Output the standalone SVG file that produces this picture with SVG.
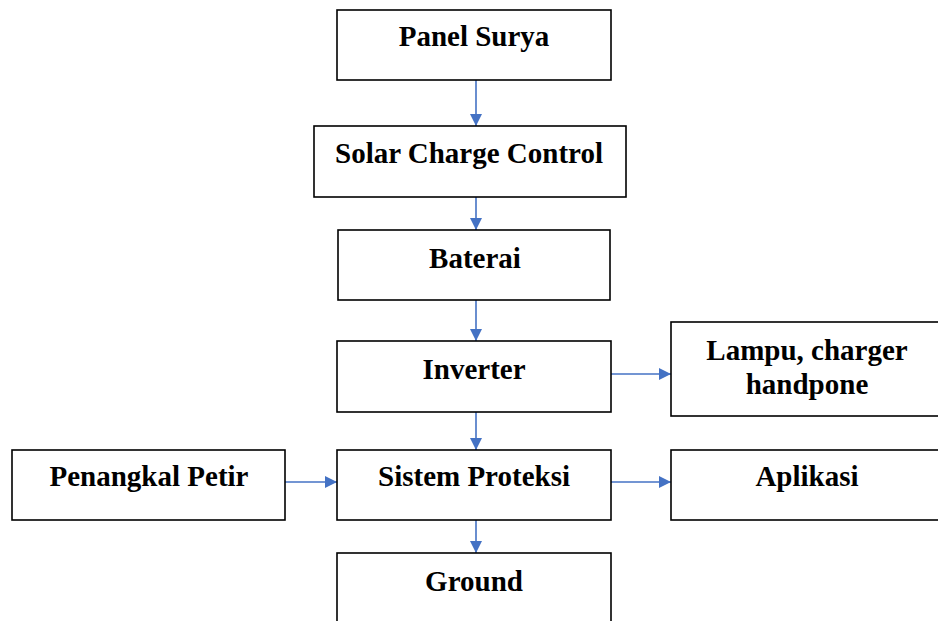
<svg xmlns="http://www.w3.org/2000/svg" width="938" height="621" viewBox="0 0 938 621">
<style>
.box{fill:#fff;stroke:#000;stroke-width:1.6}
.lbl{font-family:"Liberation Serif","Times New Roman",serif;font-weight:bold;font-size:29px;fill:#000;text-anchor:middle}
.con{stroke:#4472C4;stroke-width:1.6;fill:none}
</style>
<defs>
<marker id="ah" viewBox="0 0 12 12" refX="12" refY="6" markerWidth="12" markerHeight="12" markerUnits="userSpaceOnUse" orient="auto">
<path d="M0,0 L12,6 L0,12 Z" fill="#4472C4"/>
</marker>
</defs>
<rect width="938" height="621" fill="#fff"/>
<g id="connectors">
<line class="con" x1="476" y1="80" x2="476" y2="126" marker-end="url(#ah)"/>
<line class="con" x1="476" y1="197" x2="476" y2="230" marker-end="url(#ah)"/>
<line class="con" x1="476" y1="300" x2="476" y2="341" marker-end="url(#ah)"/>
<line class="con" x1="476" y1="412" x2="476" y2="450" marker-end="url(#ah)"/>
<line class="con" x1="476" y1="520" x2="476" y2="553" marker-end="url(#ah)"/>
<line class="con" x1="611" y1="374" x2="671" y2="374" marker-end="url(#ah)"/>
<line class="con" x1="285" y1="482" x2="337" y2="482" marker-end="url(#ah)"/>
<line class="con" x1="611" y1="482" x2="671" y2="482" marker-end="url(#ah)"/>
</g>
<g id="panel-surya">
<rect class="box" x="337" y="10" width="274" height="70"/>
<text class="lbl" x="474" y="46">Panel Surya</text>
</g>
<g id="solar-charge-control">
<rect class="box" x="314" y="126" width="312" height="71"/>
<text class="lbl" x="469" y="163">Solar Charge Control</text>
</g>
<g id="baterai">
<rect class="box" x="338" y="230" width="272" height="70"/>
<text class="lbl" x="475" y="268">Baterai</text>
</g>
<g id="inverter">
<rect class="box" x="337" y="341" width="274" height="71"/>
<text class="lbl" x="474" y="379">Inverter</text>
</g>
<g id="lampu">
<rect class="box" x="671" y="322" width="280" height="94"/>
<text class="lbl" x="807" y="360">Lampu, charger</text>
<text class="lbl" x="807" y="394">handpone</text>
</g>
<g id="penangkal-petir">
<rect class="box" x="12" y="450" width="273" height="70"/>
<text class="lbl" x="149" y="486">Penangkal Petir</text>
</g>
<g id="sistem-proteksi">
<rect class="box" x="337" y="450" width="274" height="70"/>
<text class="lbl" x="474" y="486">Sistem Proteksi</text>
</g>
<g id="aplikasi">
<rect class="box" x="671" y="450" width="280" height="70"/>
<text class="lbl" x="807" y="486">Aplikasi</text>
</g>
<g id="ground">
<rect class="box" x="337" y="553" width="274" height="80"/>
<text class="lbl" x="474" y="591">Ground</text>
</g>
</svg>
